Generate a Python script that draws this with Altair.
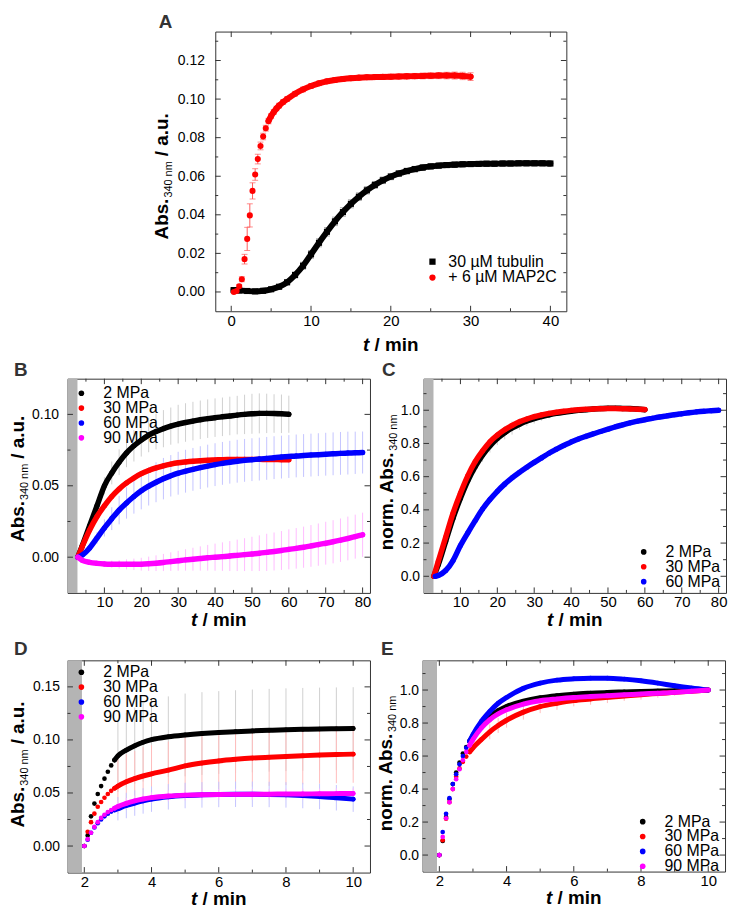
import altair as alt
import pandas as pd

FONT = "Liberation Sans"
FRAME = "#333333"
BAND_GRAY = "#b4b4b4"
BLACK, RED, BLUE, MAG = "#000000", "#ff0000", "#0000ff", "#ff00ff"
L_BLACK, L_RED, L_BLUE, L_MAG = "#cfcfcf", "#ffbcbc", "#c4c4ff", "#ffbcff"

# ---------------- Panel A ----------------
A_X_DOMAIN = [-2, 42]
A_Y_DOMAIN = [-0.01, 0.135]
A_X_MAJOR = [0, 10, 20, 30, 40]
A_X_MINOR = [5, 15, 25, 35]
A_Y_MAJOR = [0.0, 0.02, 0.04, 0.06, 0.08, 0.10, 0.12]
A_Y_MINOR = [0.01, 0.03, 0.05, 0.07, 0.09, 0.11, 0.13]
A_NAMES = ["30 µM tubulin", "+ 6 µM MAP2C"]
A_TUB_T = [0.3, 1, 2, 3, 4, 5, 6, 7, 8, 9, 10, 11, 12, 13, 14, 15, 16, 17, 18, 19, 20,
           21, 22, 23, 24, 25, 26, 27, 28, 29, 30, 31, 32, 33, 34, 35, 36, 37, 38, 39, 40]
A_TUB_V = [0.0010, 0.0008, 0.0005, 0.0003, 0.0006, 0.0014, 0.0027, 0.0050, 0.0088, 0.0136,
           0.0195, 0.0255, 0.0312, 0.0366, 0.0414, 0.0457, 0.0494, 0.0527, 0.0555, 0.0579,
           0.0598, 0.0614, 0.0627, 0.0637, 0.0645, 0.0651, 0.0655, 0.0658, 0.0660, 0.0662,
           0.0663, 0.0664, 0.0665, 0.0665, 0.0666, 0.0666, 0.0667, 0.0667, 0.0667, 0.0667,
           0.0666]
A_TUB_E = [0.0008, 0.0008, 0.0008, 0.0008, 0.0008, 0.0009, 0.0010, 0.0012, 0.0015, 0.0018,
           0.0020, 0.0021, 0.0022, 0.0022, 0.0022, 0.0021, 0.0020, 0.0019, 0.0018, 0.0017,
           0.0016, 0.0015, 0.0015, 0.0014, 0.0014, 0.0013, 0.0013, 0.0013, 0.0013, 0.0012,
           0.0012, 0.0012, 0.0012, 0.0012, 0.0012, 0.0012, 0.0012, 0.0012, 0.0012, 0.0012,
           0.0012]
A_MAP_T = [0.33, 0.67, 1.0, 1.33, 1.67, 2.0, 2.33, 2.67, 3.0, 3.33, 3.67, 4.0, 4.33, 4.67,
           5.0, 5.33, 5.67, 6.0, 6.5, 7, 8, 9, 10, 11, 12, 13, 14, 15, 16, 17, 18, 19, 20,
           21, 22, 23, 24, 25, 26, 27, 28, 29, 30]
A_MAP_V = [0.0000, 0.0005, 0.0029, 0.0066, 0.0170, 0.0275, 0.0397, 0.0524, 0.0609, 0.0689,
           0.0757, 0.0806, 0.0849, 0.0886, 0.0912, 0.0933, 0.0951, 0.0966, 0.0985, 0.1000,
           0.1028, 0.1050, 0.1068, 0.1082, 0.1092, 0.1099, 0.1104, 0.1108, 0.1111, 0.1113,
           0.1114, 0.1115, 0.1116, 0.1117, 0.1118, 0.1119, 0.1120, 0.1121, 0.1122, 0.1122,
           0.1122, 0.1120, 0.1116]
A_MAP_E = [0.0005, 0.0006, 0.0010, 0.0013, 0.0025, 0.0060, 0.0060, 0.0042, 0.0030, 0.0025,
           0.0020, 0.0017, 0.0015, 0.0014, 0.0013, 0.0012, 0.0012, 0.0012, 0.0012, 0.0012,
           0.0012, 0.0012, 0.0012, 0.0012, 0.0012, 0.0012, 0.0012, 0.0012, 0.0012, 0.0012,
           0.0012, 0.0013, 0.0013, 0.0013, 0.0014, 0.0014, 0.0015, 0.0015, 0.0016, 0.0017,
           0.0018, 0.0019, 0.0020]

# ---------------- Panels B-E (shared) ----------------
P_NAMES = ["\u00a0\u00a02 MPa", "30 MPa", "60 MPa", "90 MPa"]
BC_X_DOMAIN = [0, 82]
BC_X_MAJOR = [10, 20, 30, 40, 50, 60, 70, 80]
BC_X_MINOR = [5, 15, 25, 35, 45, 55, 65, 75]
BC_BAND = [0, 2.7]
DE_X_DOMAIN = [1.5, 10.5]
DE_X_MAJOR = [2, 4, 6, 8, 10]
DE_X_MINOR = [3, 5, 7, 9]
DE_BAND = [1.5, 1.93]
NORM_Y_MAJOR = [0.0, 0.2, 0.4, 0.6, 0.8, 1.0]
NORM_Y_MINOR = [0.1, 0.3, 0.5, 0.7, 0.9, 1.1]

T60 = [2.8, 4, 6, 8, 10, 12, 14, 16, 18, 20, 22, 24, 26, 28, 30, 32, 34, 36, 38, 40,
       42, 44, 46, 48, 50, 52, 54, 56, 58, 60]
T80 = [2.8, 4, 6, 8, 10, 12, 14, 16, 18, 20, 22, 24, 26, 28, 30, 32, 34, 36, 38, 40,
       42, 44, 46, 48, 50, 52, 54, 56, 58, 60, 62, 64, 66, 68, 70, 72, 74, 76, 78, 80]
T80C = [3.2, 4, 6, 8, 10, 12, 14, 16, 18, 20, 22, 24, 26, 28, 30, 32, 34, 36, 38, 40,
        42, 44, 46, 48, 50, 52, 54, 56, 58, 60, 62, 64, 66, 68, 70, 72, 74, 76, 78, 80]

# Panel B
B_Y_DOMAIN = [-0.025, 0.125]
B_Y_MAJOR = [0.0, 0.05, 0.10]
B_Y_MINOR = [0.025, 0.075]
B_2_V = [0.000, 0.008, 0.022, 0.036, 0.050, 0.059, 0.0665, 0.073, 0.078, 0.082,
         0.0855, 0.088, 0.090, 0.0918, 0.0932, 0.0943, 0.0953, 0.0962, 0.0970, 0.0977,
         0.0983, 0.0989, 0.0995, 0.1000, 0.1004, 0.1007, 0.1007, 0.1006, 0.1004, 0.1001]
B_2_E = [0.0, 0.001, 0.002, 0.004, 0.006, 0.008, 0.009, 0.010, 0.011, 0.0115,
         0.012, 0.0125, 0.013, 0.013, 0.0135, 0.0135, 0.0135, 0.0135, 0.0135, 0.0135,
         0.0135, 0.0135, 0.0135, 0.0138, 0.014, 0.014, 0.0138, 0.0135, 0.0135, 0.013]
B_30_V = [0.000, 0.0075, 0.019, 0.0285, 0.036, 0.0425, 0.0478, 0.052, 0.0555, 0.0585,
          0.0607, 0.0625, 0.064, 0.0652, 0.0661, 0.0667, 0.0672, 0.0676, 0.0679, 0.0681,
          0.0683, 0.0684, 0.0685, 0.0685, 0.0685, 0.0685, 0.0684, 0.0684, 0.0683, 0.0683]
B_60_V = [0.000, 0.0015, 0.0065, 0.0135, 0.0205, 0.027, 0.033, 0.038, 0.0425, 0.0465,
          0.0497, 0.0525, 0.055, 0.057, 0.0588, 0.0602, 0.0615, 0.0627, 0.0638, 0.0648,
          0.0657, 0.0665, 0.0672, 0.0678, 0.0683, 0.0687, 0.0692, 0.0697, 0.0701, 0.0705,
          0.0709, 0.0712, 0.0715, 0.0718, 0.0721, 0.0724, 0.0727, 0.0729, 0.0731, 0.0733]
B_60_E = [0.0, 0.001, 0.002, 0.004, 0.006, 0.008, 0.010, 0.011, 0.012, 0.013,
          0.0135, 0.014, 0.0145, 0.0145, 0.015, 0.015, 0.015, 0.015, 0.015, 0.015,
          0.015, 0.015, 0.015, 0.015, 0.015, 0.015, 0.015, 0.015, 0.015, 0.015,
          0.015, 0.015, 0.015, 0.015, 0.015, 0.015, 0.015, 0.015, 0.0148, 0.0147]
B_90_V = [0.000, -0.0022, -0.0036, -0.0043, -0.0047, -0.0049, -0.0050, -0.0050, -0.0050, -0.0049,
          -0.0046, -0.0042, -0.0037, -0.0031, -0.0025, -0.0019, -0.0014, -0.0009, -0.0004, 0.0000,
          0.0004, 0.0008, 0.0013, 0.0018, 0.0023, 0.0028, 0.0034, 0.0040, 0.0047, 0.0055,
          0.0062, 0.0070, 0.0079, 0.0088, 0.0098, 0.0108, 0.0119, 0.0131, 0.0144, 0.0157]
B_90_E = [0.0, 0.0005, 0.001, 0.0015, 0.002, 0.0025, 0.003, 0.0035, 0.004, 0.0045,
          0.005, 0.0055, 0.006, 0.0065, 0.007, 0.0075, 0.008, 0.0085, 0.009, 0.0095,
          0.010, 0.0105, 0.011, 0.0115, 0.012, 0.0125, 0.013, 0.0133, 0.0136, 0.014,
          0.0142, 0.0144, 0.0146, 0.0148, 0.015, 0.0151, 0.0152, 0.0153, 0.0154, 0.0155]

# Panel C (normalised)
C_Y_DOMAIN = [-0.1, 1.19]
C_2_V = [0.0, 0.07, 0.21, 0.35, 0.47, 0.575, 0.66, 0.73, 0.785, 0.83,
         0.865, 0.893, 0.916, 0.935, 0.95, 0.962, 0.972, 0.981, 0.988, 0.994,
         0.999, 1.003, 1.007, 1.010, 1.012, 1.012, 1.011, 1.010, 1.007, 1.003]
C_2_E = [0.0, 0.0, 0.005, 0.01, 0.015, 0.025, 0.035, 0.04, 0.04, 0.04,
         0.04, 0.04, 0.035, 0.03, 0.03, 0.025, 0.02, 0.015, 0.012, 0.01,
         0.01, 0.01, 0.01, 0.01, 0.012, 0.01, 0.01, 0.01, 0.01, 0.01]
C_30_V = [0.0, 0.09, 0.235, 0.38, 0.50, 0.605, 0.69, 0.755, 0.81, 0.85,
          0.882, 0.908, 0.93, 0.947, 0.961, 0.972, 0.981, 0.988, 0.994, 0.999,
          1.003, 1.006, 1.008, 1.009, 1.010, 1.010, 1.009, 1.008, 1.006, 1.004]
C_60_V = [0.0, 0.005, 0.035, 0.095, 0.185, 0.262, 0.335, 0.405, 0.462, 0.512,
          0.555, 0.593, 0.626, 0.657, 0.686, 0.713, 0.741, 0.765, 0.788, 0.808,
          0.827, 0.843, 0.858, 0.872, 0.886, 0.900, 0.912, 0.924, 0.934, 0.943,
          0.951, 0.959, 0.966, 0.973, 0.979, 0.985, 0.990, 0.994, 0.997, 1.000]

# Panels D and E (0-10 min)
DE_T = [2.0, 2.1, 2.2, 2.3, 2.4, 2.5, 2.6, 2.7, 2.8, 2.9, 3.0, 3.25, 3.5, 3.75, 4.0,
        4.5, 5.0, 5.5, 6.0, 6.5, 7.0, 7.5, 8.0, 8.5, 9.0, 9.5, 10.0]
D_Y_DOMAIN = [-0.025, 0.175]
D_Y_MAJOR = [0.0, 0.05, 0.10, 0.15]
D_Y_MINOR = [0.025, 0.075, 0.125]
D_2_V = [0.0, 0.010, 0.028, 0.040, 0.049, 0.0565, 0.0635, 0.070, 0.076, 0.081, 0.085,
         0.0905, 0.0945, 0.0978, 0.1002,
         0.1030, 0.1047, 0.1060, 0.1070, 0.1078, 0.1085, 0.1091, 0.1096, 0.1100, 0.1103, 0.1105, 0.1107]
D_2_E = [0, 0, 0, 0, 0, 0.030, 0.030, 0.031, 0.032, 0.033, 0.034,
         0.035, 0.036, 0.037, 0.038,
         0.038, 0.039, 0.039, 0.039, 0.039, 0.039, 0.039, 0.039, 0.039, 0.039, 0.039, 0.039]
D_30_V = [0.0, 0.0135, 0.0225, 0.0305, 0.037, 0.0415, 0.0455, 0.049, 0.052, 0.0545, 0.0565,
          0.0605, 0.0635, 0.066, 0.068,
          0.0715, 0.0755, 0.0782, 0.0802, 0.0817, 0.0829, 0.0837, 0.0844, 0.0851, 0.0857, 0.0862, 0.0866]
D_30_E = [0, 0, 0, 0, 0, 0.022, 0.023, 0.024, 0.025, 0.025, 0.026,
          0.026, 0.026, 0.027, 0.027,
          0.027, 0.027, 0.027, 0.027, 0.027, 0.027, 0.027, 0.027, 0.027, 0.027, 0.027, 0.027]
D_60_V = [0.0, 0.006, 0.0125, 0.0175, 0.0215, 0.025, 0.028, 0.0305, 0.0325, 0.034, 0.0352,
          0.0382, 0.0405, 0.0425, 0.0442,
          0.0464, 0.0476, 0.0482, 0.0486, 0.0488, 0.0488, 0.0486, 0.0482, 0.0476, 0.0467, 0.0455, 0.0442]
D_60_E = [0, 0, 0, 0, 0, 0.008, 0.009, 0.010, 0.010, 0.011, 0.011,
          0.012, 0.012, 0.012, 0.012,
          0.012, 0.012, 0.012, 0.012, 0.012, 0.012, 0.012, 0.012, 0.012, 0.012, 0.012, 0.012]
D_90_V = [0.0, 0.0065, 0.0125, 0.018, 0.0225, 0.0265, 0.0295, 0.032, 0.034, 0.0357, 0.0372,
          0.0402, 0.0425, 0.0443, 0.0456,
          0.0472, 0.0480, 0.0484, 0.0486, 0.0487, 0.0488, 0.0489, 0.0490, 0.0491, 0.0492, 0.0494, 0.0495]
D_90_E = [0, 0, 0, 0, 0, 0.004, 0.004, 0.004, 0.005, 0.005, 0.005,
          0.005, 0.005, 0.005, 0.005,
          0.005, 0.005, 0.005, 0.005, 0.005, 0.005, 0.005, 0.005, 0.005, 0.005, 0.005, 0.005]
E_Y_DOMAIN = [-0.1, 1.18]
E_2_V = [0.0, 0.086, 0.23, 0.34, 0.43, 0.50, 0.56, 0.615, 0.655, 0.69, 0.72,
         0.79, 0.84, 0.875, 0.90,
         0.932, 0.953, 0.966, 0.975, 0.981, 0.986, 0.989, 0.992, 0.994, 0.996, 0.998, 1.0]
E_30_V = [0.0, 0.09, 0.22, 0.32, 0.40, 0.475, 0.525, 0.565, 0.597, 0.625, 0.65,
          0.70, 0.747, 0.785, 0.817,
          0.866, 0.90, 0.92, 0.936, 0.946, 0.956, 0.964, 0.972, 0.979, 0.986, 0.993, 1.0]
E_30_E = [0, 0, 0, 0, 0, 0, 0, 0, 0, 0, 0,
          0, 0.045, 0.045, 0.045,
          0.045, 0.04, 0.04, 0.035, 0.035, 0.035, 0.03, 0.03, 0.025, 0.02, 0.015, 0.0]
E_60_V = [0.0, 0.14, 0.25, 0.345, 0.43, 0.49, 0.55, 0.60, 0.65, 0.69, 0.73,
          0.81, 0.87, 0.92, 0.955,
          1.01, 1.042, 1.06, 1.068, 1.072, 1.072, 1.066, 1.056, 1.042, 1.026, 1.012, 1.0]
E_90_V = [0.0, 0.11, 0.223, 0.32, 0.40, 0.46, 0.52, 0.575, 0.625, 0.665, 0.70,
          0.77, 0.82, 0.855, 0.88,
          0.915, 0.935, 0.946, 0.955, 0.961, 0.966, 0.971, 0.976, 0.981, 0.986, 0.993, 1.0]


# ---------------- helpers ----------------
def one_row():
    return alt.Data(values=[{"k": 0}])


def text_layer(s, x, y, size=19, weight="bold", style="normal", angle=0, color="black"):
    return alt.Chart(one_row()).mark_text(
        text=s, font=FONT, fontSize=size, fontWeight=weight, fontStyle=style,
        angle=angle, align="left", baseline="alphabetic", color=color,
    ).encode(x=alt.value(x), y=alt.value(y))


def ytitle_layers(kind, xb, yc):
    out = []
    if kind == "abs":
        total = 41.2 + 1 + 36.7 + 5 + 43.3
        y0 = yc + total / 2
        out.append(text_layer("Abs.", xb, y0, angle=270))
        out.append(text_layer("340 nm", xb + 4, y0 - 42.2, size=11, weight="normal", angle=270))
        out.append(text_layer("/ a.u.", xb, y0 - 42.2 - 36.7 - 5, angle=270))
    else:
        total = 99.2 + 1 + 36.7
        y0 = yc + total / 2
        out.append(text_layer("norm. Abs.", xb, y0, angle=270))
        out.append(text_layer("340 nm", xb + 4, y0 - 100.2, size=11, weight="normal", angle=270))
    return out


def xtitle_layers(W, y):
    x0 = W / 2 - 28
    return [text_layer("t", x0, y, style="italic"), text_layer("/ min", x0 + 11.6, y)]


def legend(x, y, offset, clip=None, rowpad=0, size=32):
    kw = dict(title=None, orient="none", legendX=x, legendY=y, padding=0,
              labelFont=FONT, labelFontSize=16, labelColor="black",
              labelOffset=offset, rowPadding=rowpad, symbolSize=size,
              symbolStrokeWidth=0, symbolOpacity=1, labelLimit=400)
    if clip is not None:
        kw["clipHeight"] = clip
    return alt.Legend(**kw)


def anchor_layer(x, y):
    # invisible 1px white rule that fixes the panel's outer bound for the layout
    return alt.Chart(one_row()).mark_rule(color="white", strokeWidth=1).encode(
        x=alt.value(x), x2=alt.value(x + 1), y=alt.value(y))


def panel(series, xdom, ydom, W, H, xmaj, xmin, ymaj, ymin, xfmt, yfmt, ypad, band, leg,
          letter, letter_xy, ykind, yxb, yyc, xdy, pt_size, lw, anchor, anchor_y=None,
          err_from=0, caps=False, shapes=None):
    xs = alt.Scale(domain=xdom, nice=False, zero=False)
    ys = alt.Scale(domain=ydom, nice=False, zero=False)
    xa = alt.Axis(values=xmaj, format=xfmt, labelPadding=2, labelFontSize=15, title=None)
    ya = alt.Axis(values=ymaj, format=yfmt, labelPadding=ypad, labelFontSize=14, title=None)

    def X(f):
        return alt.X(f, scale=xs, axis=xa, title=None)

    def Y(f):
        return alt.Y(f, scale=ys, axis=ya, title=None)

    names = [s["name"] for s in series]
    cscale = alt.Scale(domain=names, range=[s["color"] for s in series])
    layers = []
    if band is not None:
        layers.append(alt.Chart(pd.DataFrame({"a": [band[0]], "b": [band[1]]})).mark_rect(
            color=BAND_GRAY).encode(x=X("a:Q"), x2="b:Q", y=alt.value(0), y2=alt.value(H)))
    dfs = []
    for s in series:
        df = pd.DataFrame({"t": s["t"], "v": s["v"]})
        df["s"] = s["name"]
        if s.get("e") is not None:
            df["e"] = s["e"]
            df["lo"] = df["v"] - df["e"]
            df["hi"] = df["v"] + df["e"]
        dfs.append(df)
    for s, df in zip(series, dfs):
        if "e" not in df.columns:
            continue
        base = alt.Chart(df).transform_filter(f"datum.e > 0 && datum.t >= {err_from}")
        layers.append(base.mark_rule(color=s["ecolor"], strokeWidth=1).encode(
            x=X("t:Q"), y=Y("lo:Q"), y2="hi:Q"))
        if caps:
            for f in ("lo", "hi"):
                layers.append(base.mark_tick(color=s["ecolor"], orient="horizontal",
                                             size=6, thickness=1).encode(
                    x=X("t:Q"), y=Y(f + ":Q")))
    for s, df in zip(series, dfs):
        layers.append(alt.Chart(df).transform_filter(f"datum.t >= {s['line_from']}").mark_line(
            color=s["color"], strokeWidth=lw, interpolate="monotone", strokeCap="round",
            strokeJoin="round").encode(x=X("t:Q"), y=Y("v:Q")))
        enc = dict(x=X("t:Q"), y=Y("v:Q"), color=alt.Color("s:N", scale=cscale, legend=leg))
        if shapes:
            enc["shape"] = alt.Shape("s:N", scale=alt.Scale(domain=names, range=shapes), legend=leg)
            mk = alt.Chart(df).mark_point(filled=True, opacity=1, size=pt_size, strokeWidth=0)
        else:
            mk = alt.Chart(df).mark_circle(opacity=1, size=pt_size)
        layers.append(mk.encode(**enc))
    # inward frame ticks
    for vals, L in ((xmaj, 5.5), (xmin, 3)):
        d = pd.DataFrame({"v": vals})
        layers.append(alt.Chart(d).mark_rule(color=FRAME, strokeWidth=1).encode(
            x=X("v:Q"), y=alt.value(H), y2=alt.value(H - L)))
        layers.append(alt.Chart(d).mark_rule(color=FRAME, strokeWidth=1).encode(
            x=X("v:Q"), y=alt.value(0), y2=alt.value(L)))
    for vals, L in ((ymaj, 5.5), (ymin, 3)):
        d = pd.DataFrame({"v": vals})
        layers.append(alt.Chart(d).mark_rule(color=FRAME, strokeWidth=1).encode(
            y=Y("v:Q"), x=alt.value(0), x2=alt.value(L)))
        layers.append(alt.Chart(d).mark_rule(color=FRAME, strokeWidth=1).encode(
            y=Y("v:Q"), x=alt.value(W), x2=alt.value(W - L)))
    layers.append(text_layer(letter, letter_xy[0], letter_xy[1], color=FRAME))
    layers += ytitle_layers(ykind, yxb, yyc)
    layers += xtitle_layers(W, H + xdy)
    layers.append(anchor_layer(anchor, H / 2 if anchor_y is None else anchor_y))
    return alt.layer(*layers).properties(width=W, height=H)


# ---------------- build panels ----------------
A = panel(
    [dict(name=A_NAMES[0], t=A_TUB_T, v=A_TUB_V, e=A_TUB_E, color=BLACK, ecolor="#8a8a8a", line_from=-100),
     dict(name=A_NAMES[1], t=A_MAP_T, v=A_MAP_V, e=A_MAP_E, color=RED, ecolor="#ff5a5a", line_from=4.6)],
    A_X_DOMAIN, A_Y_DOMAIN, 354, 282, A_X_MAJOR, A_X_MINOR, A_Y_MAJOR, A_Y_MINOR, "d", ".2f", 11,
    None, legend(211, 224, 8, size=40), "A", (-57, -4), "abs", -48, 146, 40,
    pt_size=38, lw=6, anchor=-65, caps=True, shapes=["square", "circle"])

B = panel(
    [dict(name=P_NAMES[0], t=T60, v=B_2_V, e=B_2_E, color=BLACK, ecolor=L_BLACK, line_from=-100),
     dict(name=P_NAMES[1], t=T60, v=B_30_V, color=RED, ecolor=L_RED, line_from=-100),
     dict(name=P_NAMES[2], t=T80, v=B_60_V, e=B_60_E, color=BLUE, ecolor=L_BLUE, line_from=-100),
     dict(name=P_NAMES[3], t=T80, v=B_90_V, e=B_90_E, color=MAG, ecolor=L_MAG, line_from=-100)],
    BC_X_DOMAIN, B_Y_DOMAIN, 305, 216, BC_X_MAJOR, BC_X_MINOR, B_Y_MAJOR, B_Y_MINOR, "d", ".2f", 9,
    BC_BAND, legend(6, 8, 14, clip=13.3, rowpad=-2.5), "B", (-54, -3), "abs", -44, 101, 33,
    pt_size=26, lw=5.5, anchor=-59, err_from=4)

C = panel(
    [dict(name=P_NAMES[0], t=T60, v=C_2_V, e=C_2_E, color=BLACK, ecolor=L_BLACK, line_from=-100),
     dict(name=P_NAMES[1], t=T60, v=C_30_V, color=RED, ecolor=L_RED, line_from=-100),
     dict(name=P_NAMES[2], t=T80C, v=C_60_V, color=BLUE, ecolor=L_BLUE, line_from=-100)],
    BC_X_DOMAIN, C_Y_DOMAIN, 305, 216, BC_X_MAJOR, BC_X_MINOR, NORM_Y_MAJOR, NORM_Y_MINOR, "d", ".1f", 4,
    BC_BAND, legend(214, 168, 14, clip=13.3, rowpad=-3.5), "C", (-42, -3), "norm", -31, 104.5, 33,
    pt_size=26, lw=5.5, anchor=-47, err_from=4)

D = panel(
    [dict(name=P_NAMES[0], t=DE_T, v=D_2_V, e=D_2_E, color=BLACK, ecolor=L_BLACK, line_from=2.85),
     dict(name=P_NAMES[1], t=DE_T, v=D_30_V, e=D_30_E, color=RED, ecolor=L_RED, line_from=2.85),
     dict(name=P_NAMES[2], t=DE_T, v=D_60_V, e=D_60_E, color=BLUE, ecolor=L_BLUE, line_from=2.85),
     dict(name=P_NAMES[3], t=DE_T, v=D_90_V, e=D_90_E, color=MAG, ecolor=L_MAG, line_from=2.85)],
    DE_X_DOMAIN, D_Y_DOMAIN, 305, 214, DE_X_MAJOR, DE_X_MINOR, D_Y_MAJOR, D_Y_MINOR, "d", ".2f", 8,
    DE_BAND, legend(6, 5, 14, clip=14, rowpad=-1.5), "D", (-54, -5), "abs", -44, 105, 33,
    pt_size=22, lw=5, anchor=-59, anchor_y=-25, err_from=3)

E = panel(
    [dict(name=P_NAMES[0], t=DE_T, v=E_2_V, color=BLACK, ecolor=L_BLACK, line_from=2.85),
     dict(name=P_NAMES[1], t=DE_T, v=E_30_V, e=E_30_E, color=RED, ecolor=L_RED, line_from=2.85),
     dict(name=P_NAMES[2], t=DE_T, v=E_60_V, color=BLUE, ecolor=L_BLUE, line_from=2.85),
     dict(name=P_NAMES[3], t=DE_T, v=E_90_V, color=MAG, ecolor=L_MAG, line_from=2.85)],
    DE_X_DOMAIN, E_Y_DOMAIN, 305, 213, DE_X_MAJOR, DE_X_MINOR, NORM_Y_MAJOR, NORM_Y_MINOR, "d", ".1f", 4,
    DE_BAND, legend(214, 156, 14, clip=13.3, rowpad=-3.5), "E", (-42, -5), "norm", -31, 104, 33,
    pt_size=22, lw=5, anchor=-47, anchor_y=-25, err_from=3)

# empty spacer that pushes panel A to the right inside the first row
spacer = alt.Chart(one_row()).mark_point(opacity=0).encode(
    x=alt.value(0), y=alt.value(0)
).properties(width=83, height=1, view=alt.ViewBackground(strokeOpacity=0))

IND = dict(color="independent", shape="independent")
row1 = alt.hconcat(spacer, A, spacing=0).resolve_scale(**IND)
row2 = alt.hconcat(B, C, spacing=4).resolve_scale(**IND)
row3 = alt.hconcat(D, E, spacing=4).resolve_scale(**IND)
chart = alt.vconcat(row1, row2, row3, spacing=4).resolve_scale(**IND).properties(
    padding=0, background="white"
).configure_view(
    stroke=FRAME, strokeWidth=1
).configure_axis(
    labelFont=FONT, labelFontSize=15, labelColor="black", ticks=False, tickSize=0,
    domain=False, grid=False
)

chart.save("out.html", embed_options={"renderer": "svg", "actions": False})
